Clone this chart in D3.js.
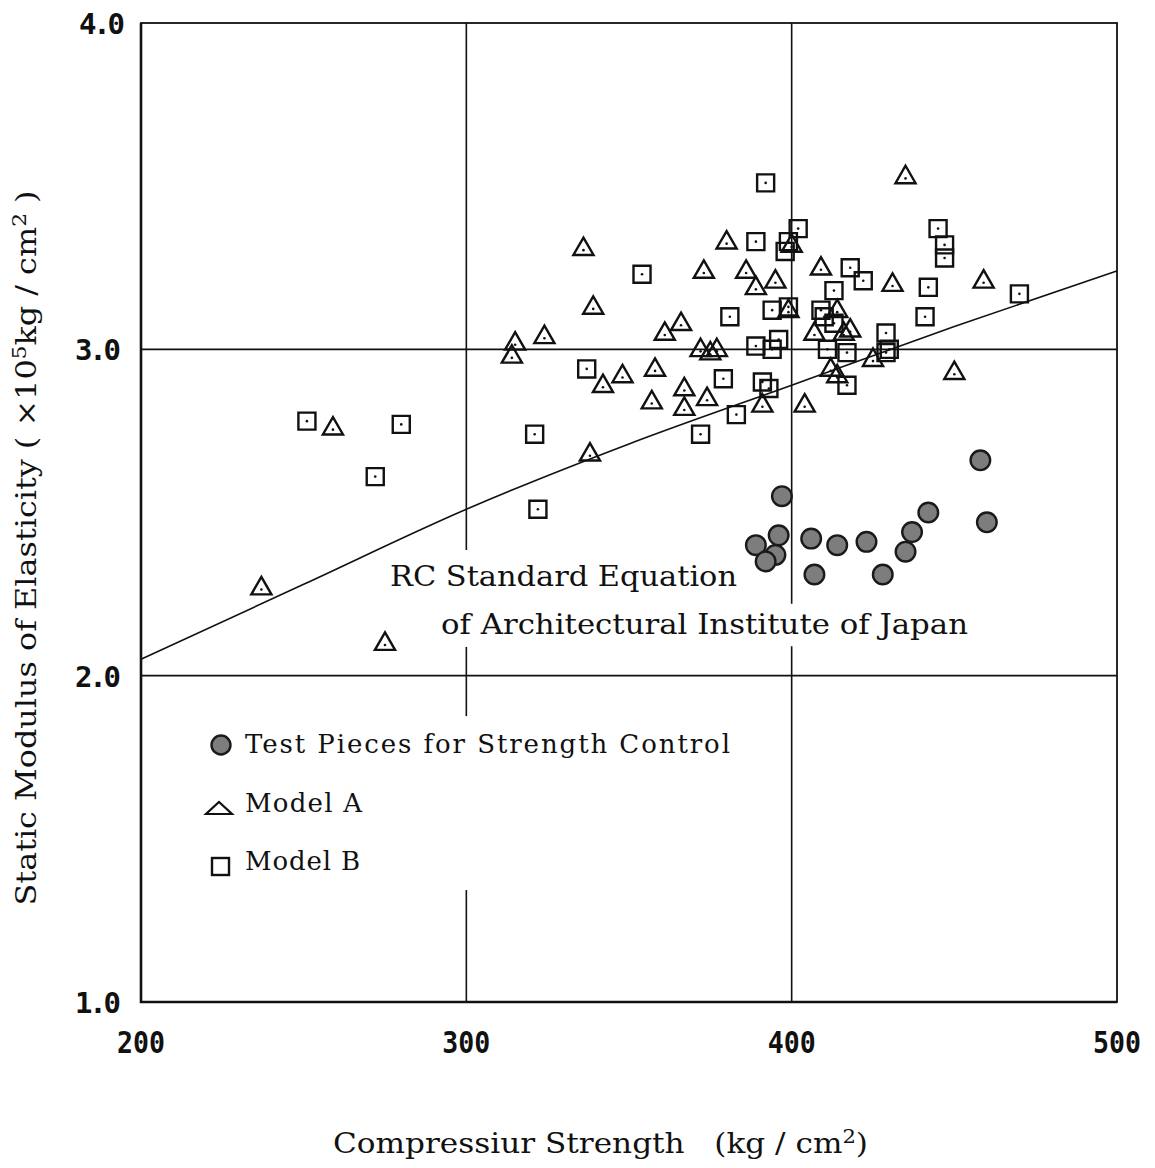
<!DOCTYPE html>
<html>
<head>
<meta charset="utf-8">
<script src="https://cdn.jsdelivr.net/npm/d3@7"></script>
<style>
  body { margin: 0; background: #fff; }
  text { fill: #111; white-space: pre; }
</style>
</head>
<body>
<svg id="chart" width="1155" height="1168"></svg>
<script>
// Model A  -> triangles  [compressive strength, E (x10^5)]
const modelA = [
  [336, 3.31], [373, 3.24], [386, 3.24], [380, 3.33], [395, 3.21], [389, 3.19],
  [409, 3.25], [339, 3.13], [366, 3.08], [361, 3.05], [324, 3.04], [315, 3.02],
  [314, 2.98], [372, 3.00], [375, 2.99], [377, 3.00], [342, 2.89], [348, 2.92],
  [358, 2.94], [367, 2.88], [374, 2.85], [357, 2.84], [367, 2.82], [391, 2.83],
  [404, 2.83], [338, 2.68], [259, 2.76], [237, 2.27], [275, 2.10], [435, 3.53],
  [431, 3.20], [459, 3.21], [414, 3.12], [407, 3.05], [418, 3.06], [416, 3.05],
  [425, 2.97], [450, 2.93], [412, 2.94], [414, 2.92], [400, 3.32], [399, 3.12]
];

// Model B -> squares
const modelB = [
  [392, 3.51], [402, 3.37], [398, 3.30], [399, 3.33], [389, 3.33], [354, 3.23],
  [381, 3.10], [394, 3.12], [399, 3.13], [389, 3.01], [394, 3.00], [396, 3.03],
  [337, 2.94], [379, 2.91], [391, 2.90], [393, 2.88], [383, 2.80], [372, 2.74],
  [321, 2.74], [251, 2.78], [280, 2.77], [272, 2.61], [322, 2.51], [445, 3.37],
  [447, 3.32], [447, 3.28], [418, 3.25], [422, 3.21], [442, 3.19], [470, 3.17],
  [413, 3.18], [409, 3.12], [410, 3.10], [413, 3.08], [441, 3.10], [429, 3.05],
  [411, 3.00], [417, 2.99], [429, 2.99], [430, 3.00], [417, 2.89]
];

// test pieces for strength control -> filled circles
const testPieces = [
  [458, 2.66], [397, 2.55], [442, 2.50], [460, 2.47], [437, 2.44], [396, 2.43],
  [406, 2.42], [414, 2.40], [423, 2.41], [389, 2.40], [435, 2.38], [395, 2.37],
  [392, 2.35], [407, 2.31], [428, 2.31]
];

// AIJ standard equation
const aijCurve = [
  [200, 2.05], [250, 2.28], [300, 2.51], [350, 2.71], [400, 2.89], [450, 3.07], [500, 3.24]
];

const xTicks = [200, 300, 400, 500];
const yTicks = [1.0, 2.0, 3.0, 4.0];

// vertical grid lines are broken where text runs across them
const vGrid = [
  { x: 300, parts: [[4.0, 2.385], [2.088, 1.876], [1.343, 1.0]] },
  { x: 400, parts: [[4.0, 2.22], [2.09, 1.0]] }
];
const hGrid = [2.0, 3.0];

const legendItems = ["Test Pieces for Strength Control", "Model A", "Model B"];

const svg = d3.select("#chart");
const x = d3.scaleLinear().domain([200, 500]).range([141, 1117]);
const y = d3.scaleLinear().domain([1, 4]).range([1002, 23]);

const serif = "'DejaVu Serif', 'Liberation Serif', serif";
const mono = "'DejaVu Sans Mono', 'Liberation Mono', monospace";

// grid
vGrid.forEach(g => {
  g.parts.forEach(p => {
    svg.append("line")
      .attr("x1", x(g.x)).attr("x2", x(g.x))
      .attr("y1", y(p[0])).attr("y2", y(p[1]))
      .attr("stroke", "#111").attr("stroke-width", 1.6);
  });
});
hGrid.forEach(v => {
  svg.append("line")
    .attr("x1", x(200)).attr("x2", x(500))
    .attr("y1", y(v)).attr("y2", y(v))
    .attr("stroke", "#111").attr("stroke-width", 1.6);
});

// frame
svg.append("rect")
  .attr("x", x(200)).attr("y", y(4))
  .attr("width", x(500) - x(200)).attr("height", y(1) - y(4))
  .attr("fill", "none").attr("stroke", "#111").attr("stroke-width", 1.8);
svg.append("path")
  .attr("d", `M${x(200)},${y(4)}V${y(1)}H${x(500)}`)
  .attr("fill", "none").attr("stroke", "#111").attr("stroke-width", 2.6);

// tick labels
svg.selectAll(".xt").data(xTicks).enter().append("text")
  .attr("x", d => x(d)).attr("y", 1053)
  .attr("text-anchor", "middle")
  .attr("font-family", mono).attr("font-weight", "bold").attr("font-size", 31)
  .attr("textLength", 48).attr("lengthAdjust", "spacingAndGlyphs")
  .text(d => d);

svg.selectAll(".yt").data(yTicks).enter().append("text")
  .attr("x", d => d === 4 ? 125 : 121).attr("y", d => y(d) + 11)
  .attr("text-anchor", "end")
  .attr("font-family", mono).attr("font-weight", "bold").attr("font-size", 29)
  .attr("textLength", 46).attr("lengthAdjust", "spacing")
  .text(d => d.toFixed(1));

// axis titles
const xt = svg.append("text")
  .attr("x", 333).attr("y", 1153)
  .attr("font-family", serif).attr("font-size", 28)
  .attr("textLength", 535).attr("lengthAdjust", "spacingAndGlyphs");
xt.append("tspan").text("Compressiur Strength\u00a0\u00a0\u00a0(kg / cm");
xt.append("tspan").attr("dy", -10).attr("font-size", 19).text("2");
xt.append("tspan").attr("dy", 10).text(")");

const yt = svg.append("text")
  .attr("transform", "translate(36,548) rotate(-90)")
  .attr("text-anchor", "middle")
  .attr("font-family", serif).attr("font-size", 28)
  .attr("textLength", 715).attr("lengthAdjust", "spacingAndGlyphs");
yt.append("tspan").text("Static Modulus of Elasticity ( ×10");
yt.append("tspan").attr("dy", -10).attr("font-size", 19).text("5");
yt.append("tspan").attr("dy", 10).text("kg / cm");
yt.append("tspan").attr("dy", -10).attr("font-size", 19).text("2");
yt.append("tspan").attr("dy", 10).text(" )");

// standard equation curve
const line = d3.line().x(d => x(d[0])).y(d => y(d[1])).curve(d3.curveMonotoneX);
svg.append("path").datum(aijCurve)
  .attr("d", line).attr("fill", "none")
  .attr("stroke", "#111").attr("stroke-width", 1.6);

svg.append("text").attr("x", 390).attr("y", 586)
  .attr("font-family", serif).attr("font-size", 28)
  .attr("textLength", 347).attr("lengthAdjust", "spacingAndGlyphs")
  .text("RC Standard Equation");
svg.append("text").attr("x", 441).attr("y", 634)
  .attr("font-family", serif).attr("font-size", 28)
  .attr("textLength", 527).attr("lengthAdjust", "spacingAndGlyphs")
  .text("of Architectural Institute of Japan");

// markers
const tri = d3.symbol().type(d3.symbolTriangle).size(175);
const sq = d3.symbol().type(d3.symbolSquare).size(290);

function drawSeries(data, kind) {
  const g = svg.append("g");
  data.forEach(d => {
    const cx = x(d[0]), cy = y(d[1]);
    if (kind === "circle") {
      g.append("circle").attr("cx", cx).attr("cy", cy).attr("r", 9.8)
        .attr("fill", "#7d7d7d").attr("stroke", "#1a1a1a").attr("stroke-width", 2.4);
      return;
    }
    g.append("path")
      .attr("d", kind === "tri" ? tri() : sq())
      .attr("transform", `translate(${cx},${cy + (kind === "tri" ? 1 : 0)})`)
      .attr("fill", "none").attr("stroke", "#111").attr("stroke-width", 2.4);
    g.append("circle").attr("cx", cx).attr("cy", cy + (kind === "tri" ? 2 : 0))
      .attr("r", 1.3).attr("fill", "#111");
  });
}
drawSeries(modelB, "sq");
drawSeries(modelA, "tri");
drawSeries(testPieces, "circle");

// legend
const leg = svg.append("g");
leg.append("circle").attr("cx", 221).attr("cy", 745).attr("r", 9.5)
  .attr("fill", "#7d7d7d").attr("stroke", "#1a1a1a").attr("stroke-width", 2.4);
leg.append("path").attr("d", "M-13,6H13L0,-6Z")
  .attr("transform", "translate(219,808)")
  .attr("fill", "none").attr("stroke", "#111").attr("stroke-width", 2.2);
leg.append("rect").attr("x", 212).attr("y", 858).attr("width", 17).attr("height", 17)
  .attr("fill", "none").attr("stroke", "#111").attr("stroke-width", 2.4);

const legY = [753, 812, 870];
const legW = [485, 117, 115];
leg.selectAll("text").data(legendItems).enter().append("text")
  .attr("x", 245).attr("y", (d, i) => legY[i])
  .attr("font-family", serif).attr("font-size", 26)
  .attr("textLength", (d, i) => legW[i]).attr("lengthAdjust", "spacing")
  .text(d => d);
</script>
</body>
</html>
